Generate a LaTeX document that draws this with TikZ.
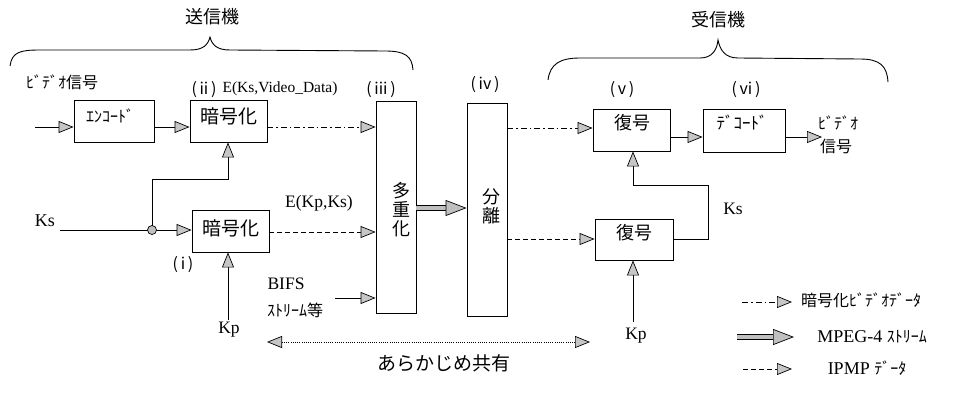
\documentclass[tikz,border=0pt]{standalone}
\usepackage{fontspec}
\setmainfont{Liberation Serif}
\newfontfamily\jp{Noto Sans CJK JP}
\usetikzlibrary{arrows.meta}
\tikzset{
  box/.style={draw, line width=0.9pt, inner sep=0pt},
  tipa/.style={-{Triangle[length=15pt,width=12pt,fill=gray!45,line width=0.7pt]}},
  tipb/.style={{Triangle[length=15pt,width=12pt,fill=gray!45,line width=0.7pt]}-{Triangle[length=15pt,width=12pt,fill=gray!45,line width=0.7pt]}},
  ln/.style={line width=0.9pt},
  dashdot/.style={dash pattern=on 6pt off 3pt on 1.5pt off 3pt},
  dsh/.style={dash pattern=on 5pt off 3pt},
  dots/.style={dash pattern=on 1pt off 1.2pt},
  dbl/.style={line width=0.9pt, double=gray!50, double distance=3.4pt,
    -{Triangle[length=21pt,width=16pt,fill=gray!50,line width=0.7pt]}},
  jl/.style={font=\jp\fontsize{18}{20}\selectfont, inner sep=0pt},
  jm/.style={font=\jp\fontsize{16}{18}\selectfont, inner sep=0pt},
  ll/.style={font=\fontsize{17.5}{19}\selectfont, inner sep=0pt},
}
\begin{document}
\begin{tikzpicture}[x=1pt,y=-1pt]
\useasboundingbox (0,0) rectangle (958,396);
% braces
\draw[ln] (10,66) .. controls (12,52) and (20,50) .. (40,50) -- (190,50)
  .. controls (203,50) and (208,45) .. (210,37)
  .. controls (212,45) and (217,50) .. (230,50) -- (385,51)
  .. controls (405,51) and (412,56) .. (413,70);
\draw[ln] (548,80) .. controls (550,64) and (560,58) .. (580,58) -- (700,58)
  .. controls (712,58) and (717,50) .. (718,40)
  .. controls (720,50) and (725,58) .. (738,58) -- (860,59)
  .. controls (880,59) and (887,66) .. (888,82);
\node[jl] (tx) at (212,17) {送信機};
\node[jl] (rx) at (718,20) {受信機};
% boxes
\node[box, minimum width=80pt, minimum height=42pt] (enc) at (114,121) {};
\node[jm] at (110,116) {ｴﾝｺｰﾄﾞ};
\node[box, minimum width=77pt, minimum height=42pt] (ea) at (228.5,121) {};
\node[jl, font=\jp\fontsize{19}{20}\selectfont] at (229,116) {暗号化};
\node[box, minimum width=77pt, minimum height=42pt] (eb) at (230.5,231) {};
\node[jl, font=\jp\fontsize{19}{20}\selectfont] at (231,228) {暗号化};
\node[box, minimum width=40pt, minimum height=212pt] (mux) at (396,207) {};
\node[jl, align=center, font=\jp\fontsize{18}{19}\selectfont] at (401,210) {多\\重\\化};
\node[box, minimum width=40pt, minimum height=213pt] (dmx) at (487,209.5) {};
\node[jl, align=center, font=\jp\fontsize{18}{19}\selectfont] at (491,206) {分\\離};
\node[box, minimum width=77pt, minimum height=42pt] (da) at (631.5,130) {};
\node[jl] at (632,123) {復号};
\node[box, minimum width=82pt, minimum height=43pt] (dec) at (744,130.5) {};
\node[jm, font=\jp\fontsize{17}{18}\selectfont] at (742,123) {ﾃﾞｺｰﾄﾞ};
\node[box, minimum width=78pt, minimum height=41pt] (db) at (634,239.5) {};
\node[jl] at (634,233) {復号};
% labels
\node[jm] (vs) at (62,82) {ﾋﾞﾃﾞｵ信号};
\node[jm] (l2) at (204,90) {(\,ii\,)};
\node[font=\fontsize{15.5}{17}\selectfont, inner sep=0pt] (evd) at (280,89) {E(Ks,Video\_Data)};
\node[jm] (l3) at (381,90) {(\,iii\,)};
\node[jm] (l4) at (485,85) {(\,iv\,)};
\node[jm] (l5) at (622,90) {(\,v\,)};
\node[jm] (l6) at (746,90) {(\,vi\,)};
\node[jm] (l1) at (183,265) {(\,i\,)};
\node[jm] (vo1) at (838,123) {ﾋﾞﾃﾞｵ};
\node[jm] (vo2) at (836,146) {信号};
\node[ll, font=\fontsize{18}{19}\selectfont] (ks) at (45,221) {Ks};
\node[ll] (ekp) at (319,203) {E(Kp,Ks)};
\node[ll] (bifs) at (286,284) {BIFS};
\node[jm] (str) at (295,310) {ｽﾄﾘｰﾑ等};
\node[ll] (kp1) at (229,330) {Kp};
\node[ll] (ks2) at (733,209) {Ks};
\node[ll] (kp2) at (636,336) {Kp};
\node[jl, font=\jp\fontsize{19}{20}\selectfont] (pre) at (444,363) {あらかじめ共有};
% coordinates
\coordinate (in0) at (35,127);
\coordinate (ksS) at (60,230);
\coordinate (jn) at (152,230);
\coordinate (jup) at (152,179);
\coordinate (jr) at (228,179);
\coordinate (kpS) at (228,320);
\coordinate (bifsS) at (335,298);
\coordinate (kpS2) at (633,322);
\coordinate (lpA) at (708,239);
\coordinate (lpB) at (708,185);
\coordinate (lpC) at (633,185);
\coordinate (outE) at (822,137);
\coordinate (shL) at (267,342);
\coordinate (shR) at (590,342);
% connectors
\draw[ln,tipa] (in0) -- (enc.west |- in0);
\draw[ln,tipa] (enc.east |- in0) -- (ea.west |- in0);
\draw[ln,dashdot,tipa] (ea.east |- in0) -- (mux.west |- in0);
\draw[ln] (ksS) -- (jn);
\draw[ln,tipa] (jn) -- (eb.west |- jn);
\draw[ln,tipa] (jn) -- (jup) -- (jr) -- (ea.south -| jr);
\fill[gray!50, draw=black, line width=0.7pt] (jn) circle (4.5pt);
\draw[ln,tipa] (kpS) -- (eb.south -| kpS);
\draw[ln,dsh,tipa] (eb.east |- 0,232) -- (mux.west |- 0,232);
\draw[ln,tipa] (bifsS) -- (mux.west |- bifsS);
\draw[dbl] (mux.east |- 0,208) -- (dmx.west |- 0,208);
\draw[ln,dashdot,tipa] (dmx.east |- 0,128) -- (da.west |- 0,128);
\draw[ln,dsh,tipa] (dmx.east |- 0,239) -- (db.west |- 0,239);
\draw[ln,tipa] (da.east |- 0,137) -- (dec.west |- 0,137);
\draw[ln,tipa] (dec.east |- outE) -- (outE);
\draw[ln] (db.east |- lpA) -- (lpA) -- (lpB) -- (lpC);
\draw[ln,tipa] (lpC) -- (da.south -| lpC);
\draw[ln,tipa] (kpS2) -- (db.south -| kpS2);
\draw[ln,dots,tipb] (shL) -- (shR);
% legend
\coordinate (g1a) at (742,302); \coordinate (g1b) at (792,302);
\coordinate (g2a) at (737,337); \coordinate (g2b) at (794,337);
\coordinate (g3a) at (743,369); \coordinate (g3b) at (792,369);
\draw[ln,dashdot,tipa] (g1a) -- (g1b);
\draw[dbl] (g2a) -- (g2b);
\draw[ln,dsh,tipa] (g3a) -- (g3b);
\node[jm] (t1) at (861,300) {暗号化ﾋﾞﾃﾞｵﾃﾞｰﾀ};
\node[ll, font=\fontsize{18}{19}\selectfont] (t2) at (872,337) {MPEG-4 {\jp\fontsize{16}{18}\selectfont ｽﾄﾘｰﾑ}};
\node[ll, font=\fontsize{18}{19}\selectfont] (t3) at (867,368) {IPMP {\jp\fontsize{16}{18}\selectfont ﾃﾞｰﾀ}};
\end{tikzpicture}
\end{document}
